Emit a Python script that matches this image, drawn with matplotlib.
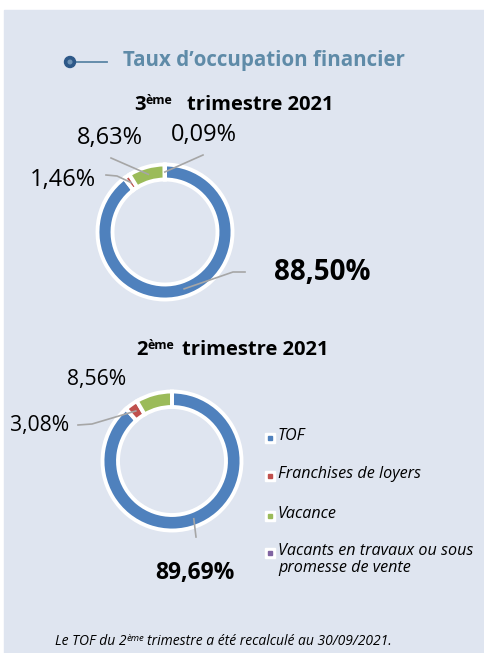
import numpy as np
from matplotlib import pyplot as plt, rcParams
from matplotlib.patches import Rectangle, Circle

rcParams['font.family'] = ['Open Sans', 'DejaVu Sans']

# données
categories = ['TOF', 'Franchises de loyers', 'Vacance',
              'Vacants en travaux ou sous\npromesse de vente']
colors = ['#4f81bd', '#c0504d', '#9bbb59', '#8064a2']
q3_values = [88.50, 1.46, 8.63, 0.09]
q3_labels = ['88,50%', '1,46%', '8,63%', '0,09%']
q2_values = [89.69, 3.08, 8.56, 0.0]
q2_labels = ['89,69%', '3,08%', '8,56%', '']

W, H = 485, 653
fig = plt.figure(figsize=(W / 100, H / 100), dpi=100)
ax = fig.add_axes([0, 0, 1, 1])
renderer = fig.canvas.get_renderer()


def Y(py):  # position écran (depuis le haut) -> coordonnée y
    return H - py


# fond du panneau
ax.add_patch(Rectangle((4, 0), W - 4, Y(10), color='#dfe5f0', zorder=0))

# titre
ax.add_line(plt.Line2D([76, 107], [Y(62), Y(62)], color='#5b85a5', lw=1.3))
ax.add_patch(Circle((70, Y(62)), 5.5, color='#2d5888', zorder=3))
ax.add_patch(Circle((70, Y(62)), 1.8, color='#6f93b5', zorder=4))
ax.text(123, Y(66), 'Taux d’occupation financier', fontsize=14.8, fontweight='bold',
        color='#5f8ba8', va='baseline')


def rich(x, y, parts, **kw):
    # texte avec exposant: (texte, taille, décalage vertical, espace après)
    for s, size, dy, gap in parts:
        t = ax.text(x, y + dy, s, fontsize=size, va='baseline', ha='left', **kw)
        x += t.get_window_extent(renderer=renderer).width + gap


def donut(values, labels, center, radius, width, label_pos, elbows, sizes):
    wedges, _ = ax.pie(values, colors=colors, startangle=90, counterclock=False,
                       center=center, radius=radius, frame=True,
                       wedgeprops=dict(width=width, edgecolor='white', linewidth=2.8))
    rmid = radius - width / 2
    for i, (w, lab) in enumerate(zip(wedges, labels)):
        if not lab:
            continue
        ang = np.deg2rad((w.theta1 + w.theta2) / 2)
        anchor = (center[0] + rmid * np.cos(ang), center[1] + rmid * np.sin(ang))
        if elbows[i]:
            pts = [anchor] + [(px, Y(py)) for px, py in elbows[i]]
            xs, ys = zip(*pts)
            ax.plot(xs, ys, color='#a6a6a6', lw=1.2, zorder=5)
        px, py = label_pos[i]
        ax.text(px, Y(py), lab, fontsize=sizes[i], ha='center', va='center',
                fontweight='bold' if i == 0 else 'normal', color='black')


# 3ème trimestre 2021
rich(134, Y(110), [('3', 14.5, 0, 0), ('ème', 9, 6, 15), ('trimestre 2021', 14.5, 0, 0)],
     fontweight='bold')
donut(q3_values, q3_labels, (165, Y(232)), 67.5, 15,
      [(322, 273), (63, 180), (110, 138), (204, 135)],
      [[(233, 272), (245, 272)], [(117, 176), (106, 175)], [(111, 158)], [(203, 155)]],
      [20, 17, 17, 17])

# 2ème trimestre 2021
rich(136, Y(355), [('2', 14.5, 0, 0), ('ème', 9, 6, 8), ('trimestre 2021', 14.5, 0, 0)],
     fontweight='bold')
donut(q2_values, q2_labels, (172, Y(461)), 69.5, 15.5,
      [(195, 573), (40, 426), (97, 380), None],
      [[(196, 537)], [(92, 424), (78, 425)], None, None],
      [16.5, 15.2, 15.2, 15.2])

# légende
leg_y = [438, 476, 516, 553]
for cat, col, ly in zip(categories, colors, leg_y):
    ax.plot(270, Y(ly), marker='s', ms=6.5, color='white', zorder=5)
    ax.plot(270, Y(ly), marker='s', ms=2.6, color=col, zorder=6)
    ax.text(278, Y(ly - 10), cat, fontsize=11.6, style='italic', va='top',
            ha='left', linespacing=1.12)

# note
rich(55, Y(645), [('Le TOF du 2', 10, 0, 0), ('ème', 6.8, 4, 3),
                  ('trimestre a été recalculé au 30/09/2021.', 10, 0, 0)],
     style='italic')

ax.set_xlim(0, W)
ax.set_ylim(0, H)
ax.set_aspect('equal')
ax.axis('off')

fig.savefig('out.png', dpi=100, facecolor='white')
